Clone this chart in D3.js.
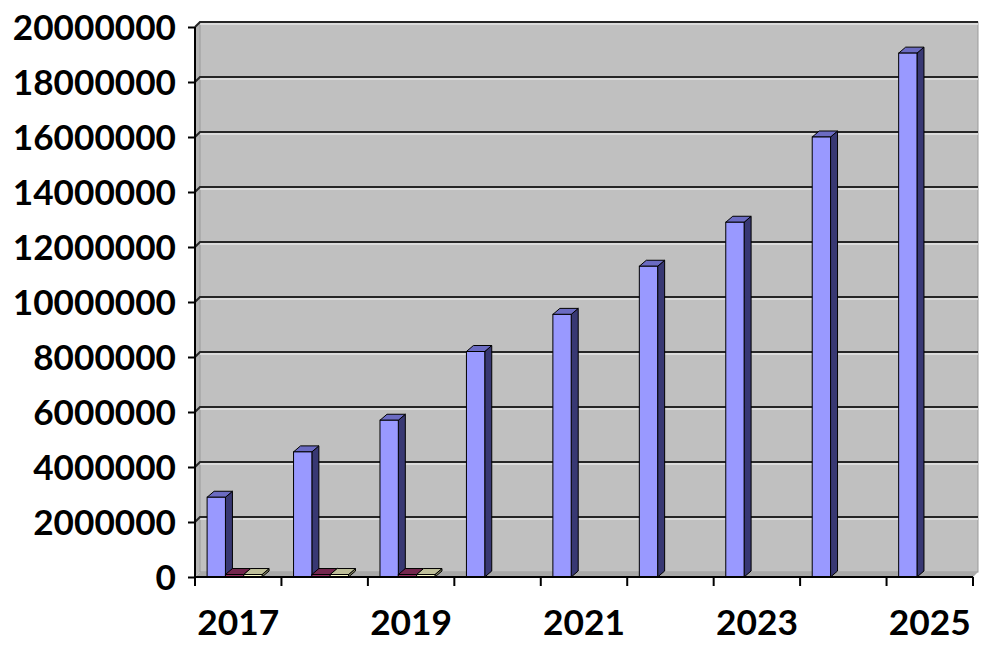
<!DOCTYPE html>
<html>
<head>
<meta charset="utf-8">
<script src="https://cdn.jsdelivr.net/npm/d3@7"></script>
<style>
  body { margin: 0; background: #fff; }
  text { font-family: Lato, "Open Sans", sans-serif; font-weight: bold; }
</style>
</head>
<body>
<div id="chart"></div>
<script>
var years = ["2017", "2018", "2019", "2020", "2021", "2022", "2023", "2024", "2025"];
var seriesA = [2900000, 4550000, 5700000, 8200000, 9550000, 11300000, 12900000, 16000000, 19050000];
var seriesB = [90000, 90000, 90000, 0, 0, 0, 0, 0, 0];
var seriesC = [90000, 90000, 90000, 0, 0, 0, 0, 0, 0];
var yTicks = [0, 2000000, 4000000, 6000000, 8000000, 10000000, 12000000, 14000000, 16000000, 18000000, 20000000];

var width = 1000,
  height = 648;
// note: "top" is taken by window.top, so plot edges get a prefix
var plotL = 195, plotR = 973, plotB = 577, plotT = 27;
var wallDx = 5, wallDy = 5;
var barDx = 7, barDy = 6;

var svg = d3
  .select("#chart")
  .append("svg")
  .attr("width", width)
  .attr("height", height);

var x = d3.scaleBand().domain(years).range([plotL, plotR]).paddingInner(0).paddingOuter(0);
var keys = ["a", "b", "c"];
var gap = x.bandwidth() * 0.14;
var x1 = d3.scaleBand().domain(keys).range([gap, x.bandwidth() - gap * 1.6]).padding(0);
var y = d3.scaleLinear().domain([0, 20000000]).range([plotB, plotT]);

var colors = {
  a: { front: "#9999ff", side: "#383873", top: "#6b6bc2" },
  b: { front: "#993366", side: "#4d1a33", top: "#73264d" },
  c: { front: "#ffffcc", side: "#80805f", top: "#bfbf99" }
};

// walls
svg.append("polygon")
  .attr("points", [[plotL, plotB], [plotL + wallDx, plotB - wallDy], [plotL + wallDx, plotT - wallDy], [plotL, plotT]].join(" "))
  .attr("fill", "#b4b4b4");
svg.append("rect")
  .attr("x", plotL + wallDx)
  .attr("y", plotT - wallDy)
  .attr("width", plotR - plotL)
  .attr("height", plotB - plotT)
  .attr("fill", "#c0c0c0")
  .attr("stroke", "#9a9a9a")
  .attr("stroke-width", 1);
svg.append("polygon")
  .attr("points", [[plotL, plotB], [plotL + wallDx, plotB - wallDy], [plotR + wallDx, plotB - wallDy], [plotR, plotB]].join(" "))
  .attr("fill", "#a8a8a8");

// gridlines
var grid = svg.append("g");
yTicks.slice(1).forEach(function (t) {
  var yy = y(t);
  grid.append("line")
    .attr("x1", plotL + wallDx).attr("x2", plotR + wallDx)
    .attr("y1", yy - wallDy + 2).attr("y2", yy - wallDy + 2)
    .attr("stroke", "#e4e4e4").attr("stroke-width", 1.5);
  grid.append("polyline")
    .attr("points", [[plotL, yy], [plotL + wallDx, yy - wallDy], [plotR + wallDx, yy - wallDy]].join(" "))
    .attr("fill", "none")
    .attr("stroke", "#262626").attr("stroke-width", 2);
});

// bars
var data = [];
years.forEach(function (yr, i) {
  data.push({ year: yr, key: "a", value: seriesA[i] });
  data.push({ year: yr, key: "b", value: seriesB[i] });
  data.push({ year: yr, key: "c", value: seriesC[i] });
});
data = data.filter(function (d) { return d.value > 0; });

var bars = svg.append("g")
  .selectAll("g")
  .data(data)
  .enter()
  .append("g");

bars.each(function (d) {
  var g = d3.select(this);
  var x0 = x(d.year) + x1(d.key);
  var w = x1.bandwidth();
  var yt = y(d.value);
  var yb = y(0);
  var c = colors[d.key];
  g.append("polygon")
    .attr("points", [[x0 + w, yt], [x0 + w + barDx, yt - barDy], [x0 + w + barDx, yb - barDy], [x0 + w, yb]].join(" "))
    .attr("fill", c.side).attr("stroke", "#000").attr("stroke-width", 1).attr("stroke-linejoin", "round");
  g.append("polygon")
    .attr("points", [[x0, yt], [x0 + barDx, yt - barDy], [x0 + w + barDx, yt - barDy], [x0 + w, yt]].join(" "))
    .attr("fill", c.top).attr("stroke", "#000").attr("stroke-width", 1).attr("stroke-linejoin", "round");
  g.append("rect")
    .attr("x", x0).attr("y", yt)
    .attr("width", w).attr("height", yb - yt)
    .attr("fill", c.front).attr("stroke", "#000").attr("stroke-width", 1);
});

// y axis
var yAxis = svg.append("g")
  .attr("transform", "translate(" + plotL + ",0)")
  .call(d3.axisLeft(y).tickValues(yTicks).tickFormat(d3.format("d")).tickSize(7).tickPadding(12));
yAxis.select(".domain").attr("stroke", "#000").attr("stroke-width", 2).attr("d", "M0," + plotT + "V" + plotB);
yAxis.selectAll(".tick line").attr("stroke", "#000").attr("stroke-width", 2);
yAxis.selectAll(".tick text")
  .attr("fill", "#000")
  .style("font-size", "34px")
  .attr("dy", "0.36em")
  .attr("textLength", function (d) { return String(d).length * 20.4; })
  .attr("lengthAdjust", "spacingAndGlyphs");

// x axis
var xAxis = svg.append("g")
  .attr("transform", "translate(0," + plotB + ")")
  .call(d3.axisBottom(x).tickSize(0).tickPadding(34).tickFormat(function (d, i) { return i % 2 === 0 ? d : ""; }));
xAxis.select(".domain").attr("stroke", "#000").attr("stroke-width", 2).attr("d", "M" + plotL + ",0H" + plotR);
xAxis.selectAll(".tick text")
  .attr("fill", "#000")
  .style("font-size", "34px")
  .attr("textLength", function (d, i) { return i % 2 === 0 ? 82 : null; })
  .attr("lengthAdjust", "spacingAndGlyphs");

var bounds = years.map(function (d) { return x(d); }).concat([plotR]);
xAxis.selectAll(".bound")
  .data(bounds)
  .enter()
  .append("line")
  .attr("class", "bound")
  .attr("x1", function (d) { return d; })
  .attr("x2", function (d) { return d; })
  .attr("y1", 0)
  .attr("y2", 9)
  .attr("stroke", "#000")
  .attr("stroke-width", 2);
</script>
</body>
</html>
